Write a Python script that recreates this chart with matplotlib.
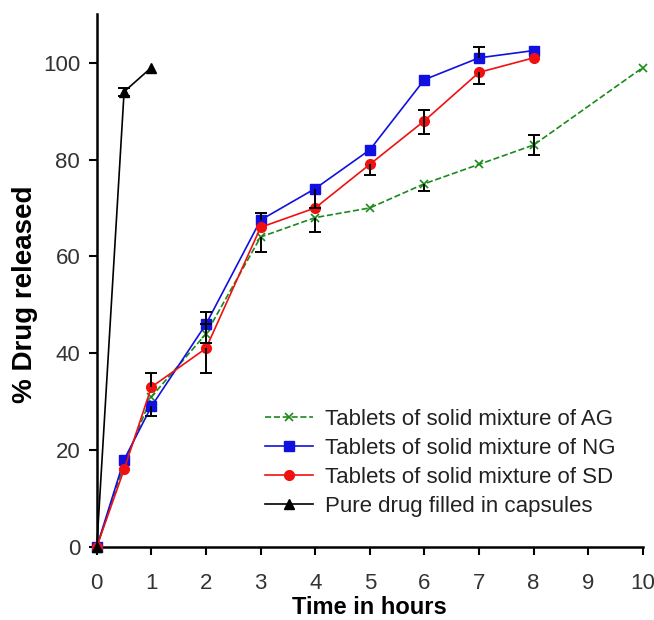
import numpy as np
import matplotlib
matplotlib.use('Agg')
import matplotlib.pyplot as plt
from matplotlib.lines import Line2D

plt.rcParams['font.family'] = ['Liberation Sans', 'DejaVu Sans']

# time points (hours)
t_ag = [0, 0.5, 1, 2, 3, 4, 5, 6, 7, 8, 10]
t_ng = [0, 0.5, 1, 2, 3, 4, 5, 6, 7, 8]
t_sd = [0, 0.5, 1, 2, 3, 4, 5, 6, 7, 8]
t_pure = [0, 0.5, 1]

# % drug released
ag = [0, 17, 31, 44, 64, 68, 70, 75, 79, 83, 99]
ng = [0, 18, 29, 46, 67.5, 74, 82, 96.5, 101, 102.5]
sd = [0, 16, 33, 41, 66, 70, 79, 88, 98, 101]
pure = [0, 94, 99]

# error bars (lower, upper)
ag_lo = [0, 0, 0, 2, 3, 3, 0, 1.5, 0, 2, 0]
ag_hi = [0, 0, 0, 2, 0, 0, 0, 0, 0, 2, 0]
ng_lo = [0, 0, 2, 0, 0, 4, 0, 0, 0, 0]
ng_hi = [0, 0, 0, 2.5, 1.5, 0, 0, 0, 2.2, 0]
sd_lo = [0, 0, 0, 5, 0, 0, 2.3, 2.7, 2.4, 0]
sd_hi = [0, 0, 3, 0, 0, 0, 0, 2.3, 0, 0]
pure_lo = [0, 0.8, 0]
pure_hi = [0, 0.8, 0]

series = [
    ('Tablets of solid mixture of AG', t_ag, ag, ag_lo, ag_hi,
     dict(color='#1a8a1a', ls='--', marker='x', ms=6, mew=1.2)),
    ('Tablets of solid mixture of NG', t_ng, ng, ng_lo, ng_hi,
     dict(color='#1010e0', ls='-', marker='s', ms=7.5)),
    ('Tablets of solid mixture of SD', t_sd, sd, sd_lo, sd_hi,
     dict(color='#f01010', ls='-', marker='o', ms=7)),
    ('Pure drug filled in capsules', t_pure, pure, pure_lo, pure_hi,
     dict(color='black', ls='-', marker='^', ms=7.5)),
]

fig = plt.figure(figsize=(6.54, 6.2), dpi=100)
ax = fig.add_axes([0.148, 0.118, 0.835, 0.859])

handles = []
for name, t, y, lo, hi, st in series:
    ax.plot(t, y, lw=1.2, clip_on=False, zorder=3, **st)
    handles.append(Line2D([], [], lw=1.2, label=name, **st))
    # error bars: only the sides that are shown, with caps at the ends
    for xi, yi, l, h in zip(t, y, lo, hi):
        if l > 0:
            ax.vlines(xi, yi - l, yi, color='black', lw=1.4, zorder=4)
            ax.plot(xi, yi - l, marker='_', ms=9, mew=1.4, color='black', zorder=4)
        if h > 0:
            ax.vlines(xi, yi, yi + h, color='black', lw=1.4, zorder=4)
            ax.plot(xi, yi + h, marker='_', ms=9, mew=1.4, color='black', zorder=4)

ax.set_xlim(0, 10)
ax.set_ylim(0, 110)
ax.set_xticks(range(0, 11))
ax.set_yticks([0, 20, 40, 60, 80, 100])
for s in ['top', 'right']:
    ax.spines[s].set_visible(False)
for s in ['left', 'bottom']:
    ax.spines[s].set_linewidth(1.8)
ax.tick_params(direction='out', length=6, width=1.5, labelsize=16,
               colors='black', labelcolor='#333333')
ax.tick_params(axis='x', pad=13)
ax.tick_params(axis='y', pad=6)

ax.set_xlabel('Time in hours', fontsize=17, fontweight='bold', labelpad=1)
ax.set_ylabel('% Drug released', fontsize=20, fontweight='bold')
ax.yaxis.set_label_coords(-0.108, 0.475)

ax.legend(handles=handles, loc='upper left', bbox_to_anchor=(0.405, 0.341),
          bbox_transform=fig.transFigure, frameon=False, borderpad=0, borderaxespad=0,
          fontsize=16, handlelength=2.15, labelspacing=0.36, handletextpad=0.54,
          labelcolor='#222222')

fig.savefig('out.png', dpi=100)
